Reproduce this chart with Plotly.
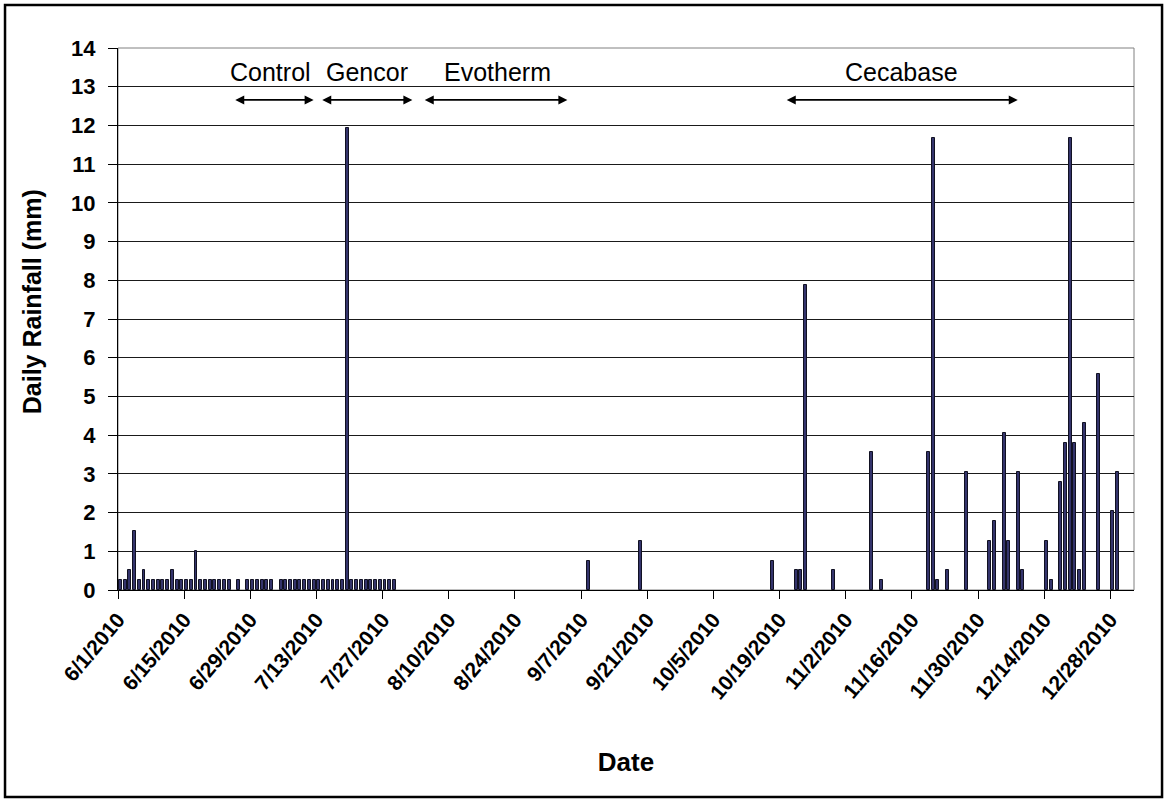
import pandas as pd
import plotly.graph_objects as go

# ---- data ----
rain_dates = (
    [f"2010-06-{d:02d}" for d in range(1, 25)]
    + ["2010-06-26"]
    + ["2010-06-28", "2010-06-29", "2010-06-30", "2010-07-01", "2010-07-02", "2010-07-03"]
    + [f"2010-07-{d:02d}" for d in range(5, 30)]
    + ["2010-09-08", "2010-09-19", "2010-10-17", "2010-10-22", "2010-10-23", "2010-10-24",
       "2010-10-30", "2010-11-07", "2010-11-09", "2010-11-19", "2010-11-20", "2010-11-21",
       "2010-11-23", "2010-11-27", "2010-12-02", "2010-12-03", "2010-12-05", "2010-12-06",
       "2010-12-08", "2010-12-09", "2010-12-14", "2010-12-15", "2010-12-17", "2010-12-18",
       "2010-12-19", "2010-12-20", "2010-12-21", "2010-12-22", "2010-12-25", "2010-12-28",
       "2010-12-29"]
)

june_vals = [0.254, 0.254, 0.508, 1.524, 0.254, 0.508, 0.254, 0.254, 0.254, 0.254,
             0.254, 0.508, 0.254, 0.254, 0.254, 0.254, 1.016, 0.254, 0.254, 0.254,
             0.254, 0.254, 0.254, 0.254]
late_june_vals = [0.254]
early_july_vals = [0.254, 0.254, 0.254, 0.254, 0.254, 0.254]
july_vals = [0.254, 0.254, 0.254, 0.254, 0.254, 0.254, 0.254, 0.254, 0.254, 0.254,
             0.254, 0.254, 0.254, 0.254, 11.938, 0.254, 0.254, 0.254, 0.254, 0.254,
             0.254, 0.254, 0.254, 0.254, 0.254]
fall_vals = [0.762, 1.27, 0.762, 0.508, 0.508, 7.874,
             0.508, 3.556, 0.254, 3.556, 11.684, 0.254,
             0.508, 3.048, 1.27, 1.778, 4.064, 1.27,
             3.048, 0.508, 1.27, 0.254, 2.794, 3.81,
             11.684, 3.81, 0.508, 4.318, 5.588, 2.032,
             3.048]
rain_values = june_vals + late_june_vals + early_july_vals + july_vals + fall_vals

tick_dates = ["2010-06-01", "2010-06-15", "2010-06-29", "2010-07-13", "2010-07-27",
              "2010-08-10", "2010-08-24", "2010-09-07", "2010-09-21", "2010-10-05",
              "2010-10-19", "2010-11-02", "2010-11-16", "2010-11-30", "2010-12-14",
              "2010-12-28"]
tick_labels = ["6/1/2010", "6/15/2010", "6/29/2010", "7/13/2010", "7/27/2010",
               "8/10/2010", "8/24/2010", "9/7/2010", "9/21/2010", "10/5/2010",
               "10/19/2010", "11/2/2010", "11/16/2010", "11/30/2010", "12/14/2010",
               "12/28/2010"]

treatments = ["Control", "Gencor", "Evotherm", "Cecabase"]
# day offsets from 6/1/2010 (arrow start, arrow end, label centre)
treat_start = [24.5, 42.9, 64.6, 141.2]
treat_end = [41.4, 62.3, 95.1, 190.4]
treat_label = [32.3, 52.6, 80.3, 165.9]

y_title = "Daily Rainfall (mm)"
x_title = "Date"

# ---- figure ----
origin = pd.Timestamp("2010-06-01")
bar_x = pd.to_datetime(rain_dates) + pd.Timedelta(hours=12)

def day(off):
    return (origin + pd.Timedelta(days=off)).isoformat()

fig = go.Figure()
fig.add_trace(go.Bar(
    x=bar_x, y=rain_values,
    width=0.62 * 86400000,
    marker=dict(color="#34346c", line=dict(color="#111122", width=1)),
    showlegend=False,
))

font_fam = "Liberation Sans, Arial, sans-serif"
ann = []
for name, s, e, c in zip(treatments, treat_start, treat_end, treat_label):
    ann.append(dict(x=day(c), y=13.38, xref="x", yref="y", text=name, showarrow=False,
                    font=dict(family=font_fam, size=25, color="black")))
    ann.append(dict(x=day(e), y=12.66, ax=day(s), ay=12.66, xref="x", yref="y",
                    axref="x", ayref="y", text="", showarrow=True, arrowhead=2,
                    arrowside="end+start", arrowsize=1, arrowwidth=1.8,
                    arrowcolor="black"))
ann.append(dict(x=-0.0846, y=0.531, xref="paper", yref="paper", text=f"<b>{y_title}</b>",
                textangle=-90, showarrow=False, xanchor="center", yanchor="middle",
                font=dict(family=font_fam, size=25, color="black")))

shapes = [
    dict(type="rect", xref="paper", yref="paper", x0=0, x1=1, y0=0, y1=1,
         line=dict(color="#808080", width=1), layer="below"),
    dict(type="rect", xref="paper", yref="paper", x0=-0.1112, x1=1.0276,
         y0=-0.3819, y1=1.0793, line=dict(color="black", width=2.5)),
]

fig.update_layout(
    width=1167, height=803,
    margin=dict(l=118, r=33, t=48, b=213),
    paper_bgcolor="white", plot_bgcolor="white",
    bargap=0,
    font=dict(family=font_fam, color="black"),
    annotations=ann,
    shapes=shapes,
    xaxis=dict(
        type="date",
        range=["2010-06-01", "2011-01-02"],
        tickvals=tick_dates, ticktext=tick_labels,
        tickangle=-50,
        tickfont=dict(family=font_fam, size=21, color="black", weight="bold"),
        ticks="outside", ticklen=8, tickcolor="black",
        showline=True, linecolor="black", linewidth=1,
        showgrid=False, zeroline=False,
        title=dict(text=f"<b>{x_title}</b>", font=dict(family=font_fam, size=26, color="black"),
                   standoff=50),
    ),
    yaxis=dict(
        range=[0, 14], dtick=1,
        tickfont=dict(family=font_fam, size=22, color="black", weight="bold"),
        ticks="outside", ticklen=9, tickcolor="black",
        ticklabelstandoff=8,
        showline=True, linecolor="black", linewidth=1,
        showgrid=True, gridcolor="#1a1a1a", gridwidth=1,
        zeroline=False,
    ),
)

fig.write_html("out.html", config={"displayModeBar": False},
               post_script="document.body.style.margin='0';")
